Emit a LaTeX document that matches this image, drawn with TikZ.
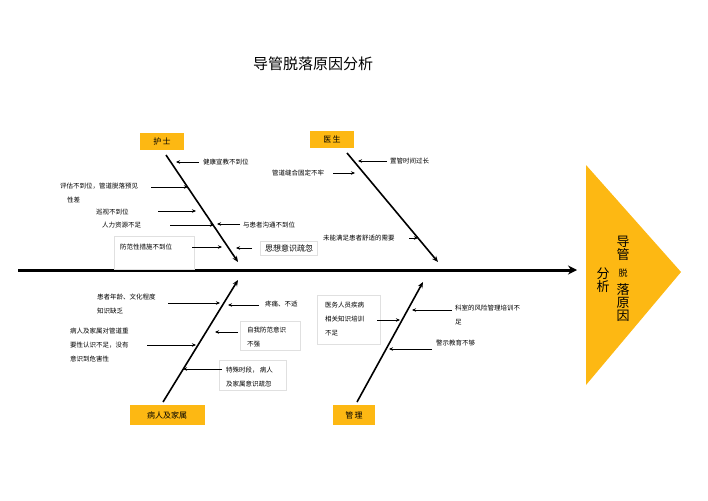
\documentclass[tikz,border=0pt]{standalone}
\usepackage{fontspec}
\setmainfont{Noto Sans CJK SC}
\usetikzlibrary{arrows.meta}
\definecolor{org}{HTML}{FDB813}
\tikzset{
 bone/.style={line width=1.6pt,-{Stealth[length=6pt,width=5pt]}},
 sm/.style={-{Stealth[length=4pt,width=3.5pt]},line width=0.6pt},
 lab/.style={font=\fontsize{6.5}{13}\selectfont,anchor=west,inner sep=0pt,align=left},
 cat/.style={fill=org,font=\fontsize{8}{9}\selectfont,inner sep=0pt},
 fbox/.style={draw=black!12,inner sep=0pt}
}
\begin{document}
\begin{tikzpicture}[x=1pt,y=-1pt]
\useasboundingbox (0,0) rectangle (708,500);
\node (title) at (313,64) {\fontsize{15}{16}\selectfont 导管脱落原因分析};
% spine
\coordinate (s0) at (18,270);
\coordinate (s1) at (577,270);
\draw[line width=3pt,-{Stealth[length=9pt,width=9pt]}] (s0) -- (s1);
\fill[org] (586,165) -- (681,272) -- (586,385) -- cycle;
\node[font=\fontsize{13}{14}\selectfont,align=center,inner sep=0pt] (t1) at (623,248) {导\\[-1pt]管};
\node[font=\fontsize{9}{10}\selectfont,inner sep=0pt] (t2) at (623,273) {脱};
\node[font=\fontsize{13}{14}\selectfont,align=center,inner sep=0pt] (t3) at (623,303) {落\\[-1pt]原\\[-1pt]因};
\node[font=\fontsize{13}{14}\selectfont,align=center,inner sep=0pt] (t4) at (603,280) {分\\[-1pt]析};
% categories
\node[cat,minimum width=44,minimum height=17] (hs) at (162,141) {护\,士};
\node[cat,minimum width=44,minimum height=17] (ys) at (332,139) {医\,生};
\node[cat,minimum width=75,minimum height=20] (br) at (167,415) {病人及家属};
\node[cat,minimum width=42,minimum height=20] (gl) at (354,415) {管\,理};
% bones
\coordinate (hA) at (166,155); \coordinate (hB) at (238,262);
\coordinate (yA) at (347,153); \coordinate (yB) at (438,262);
\coordinate (bA) at (163,402); \coordinate (bB) at (238,280);
\coordinate (gA) at (357,402); \coordinate (gB) at (423,282);
\draw[bone] (hA) -- (hB);
\draw[bone] (yA) -- (yB);
\draw[bone] (bA) -- (bB);
\draw[bone] (gA) -- (gB);
% nurse
\node[lab] (n1) at (203,162) {健康宣教不到位};
\coordinate (n1e) at (176,162); \draw[sm] (n1.west) ++(-4,0) -- (n1e);
\node[lab] (n2) at (60,193) {评估不到位，管道脱落预见\\[1pt]\hspace*{7pt}性差};
\coordinate (n2s) at (151,187); \coordinate (n2e) at (188,187); \draw[sm] (n2s) -- (n2e);
\node[lab] (n3) at (96,212) {巡视不到位};
\coordinate (n3s) at (158,211); \coordinate (n3e) at (196,211); \draw[sm] (n3s) -- (n3e);
\node[lab] (n4) at (102,225) {人力资源不足};
\coordinate (n4s) at (170,225); \coordinate (n4e) at (214,225); \draw[sm] (n4s) -- (n4e);
\node[lab] (n5) at (243,225) {与患者沟通不到位};
\coordinate (n5e) at (217,224); \draw[sm] (240,224) -- (n5e);
\node[fbox,minimum width=80,minimum height=33] (n6b) at (154,253) {};
\node[lab] (n6) at (120,247) {防范性措施不到位};
\coordinate (n6s) at (192,247); \coordinate (n6e) at (222,247); \draw[sm] (n6s) -- (n6e);
\node[fbox,minimum width=57,minimum height=14,font=\fontsize{8}{9}\selectfont] (n7) at (289,248) {思想意识疏忽};
\coordinate (n7e) at (236,248); \draw[sm] (252,248) -- (n7e);
% doctor
\node[lab] (d1) at (390,161) {置管时间过长};
\coordinate (d1e) at (358,161); \draw[sm] (387,161) -- (d1e);
\node[lab] (d2) at (272,173) {管道缝合固定不牢};
\coordinate (d2e) at (355,173); \draw[sm] (333,173) -- (d2e);
\node[lab] (d3) at (323,238) {未能满足患者舒适的需要};
\coordinate (d3e) at (418,238); \draw[sm] (409,238) -- (d3e);
% patients
\node[lab] (p1) at (97,304) {患者年龄、文化程度\\[1pt]知识缺乏};
\coordinate (p1e) at (220,303); \draw[sm] (168,303) -- (p1e);
\node[lab] (p2) at (265,304) {疼痛、不适};
\coordinate (p2e) at (228,305); \draw[sm] (259,305) -- (p2e);
\node[lab] (p3) at (70,345) {病人及家属对管道重\\[1pt]要性认识不足，没有\\[1pt]意识到危害性};
\coordinate (p3e) at (196,345); \draw[sm] (147,345) -- (p3e);
\node[fbox,minimum width=60,minimum height=29] (p4b) at (270,336) {};
\node[lab] (p4) at (247,337) {自我防范意识\\[1pt]不强};
\coordinate (p4e) at (215,332); \draw[sm] (238,332) -- (p4e);
\node[fbox,minimum width=67,minimum height=30] (p5b) at (253,375) {};
\node[lab] (p5) at (226,377) {特殊时段，\,病人\\[1pt]及家属意识疏忽};
\coordinate (p5e) at (183,369); \draw[sm] (222,369) -- (p5e);
% management
\node[fbox,minimum width=63,minimum height=49] (g1b) at (349,320) {};
\node[lab] (g1) at (325,319) {医务人员疾病\\[1pt]相关知识培训\\[1pt]不足};
\coordinate (g1e) at (400,320); \draw[sm] (377,320) -- (g1e);
\node[lab] (g2) at (455,315) {科室的风险管理培训不\\[1pt]足};
\coordinate (g2e) at (412,310); \draw[sm] (452,310) -- (g2e);
\node[lab] (g3) at (436,343) {警示教育不够};
\coordinate (g3e) at (389,349); \draw[sm] (432,349) -- (g3e);
\end{tikzpicture}
\end{document}
